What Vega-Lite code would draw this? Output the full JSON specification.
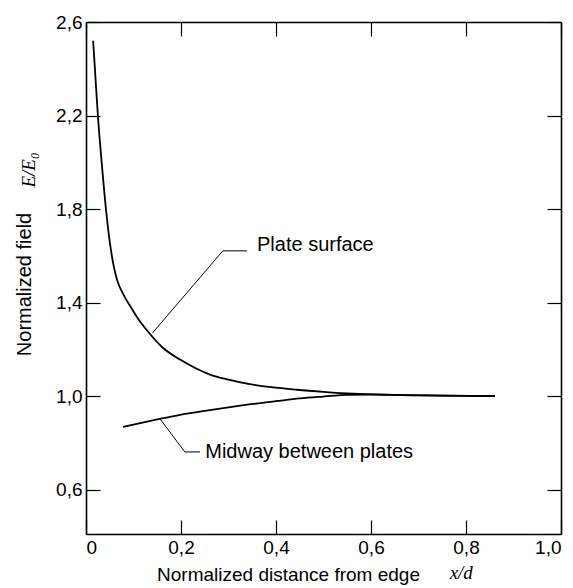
{
  "$schema": "https://vega.github.io/schema/vega-lite/v6.json",
  "width": 475,
  "height": 512,
  "autosize": {"type": "none"},
  "padding": {"left": 86, "top": 22, "right": 12, "bottom": 54},
  "background": "white",
  "config": {
    "view": {"stroke": null},
    "font": "Liberation Sans",
    "axis": {
      "grid": false,
      "domainColor": "#000",
      "domainWidth": 1.6,
      "tickColor": "#000",
      "tickWidth": 1.2,
      "tickSize": -14,
      "labelPadding": 18,
      "labelColor": "#000",
      "titleColor": "#000",
      "labelFont": "Liberation Sans",
      "titleFont": "Liberation Sans",
      "labelFontSize": 19,
      "titleFontSize": 19,
      "titleFontWeight": "normal"
    }
  },
  "datasets": {
    "curves": [
      {"series": "Plate surface", "x": 0.015, "y": 2.52},
      {"series": "Plate surface", "x": 0.02, "y": 2.36},
      {"series": "Plate surface", "x": 0.025, "y": 2.2},
      {"series": "Plate surface", "x": 0.033, "y": 2.0},
      {"series": "Plate surface", "x": 0.042, "y": 1.8},
      {"series": "Plate surface", "x": 0.05, "y": 1.66},
      {"series": "Plate surface", "x": 0.057, "y": 1.57},
      {"series": "Plate surface", "x": 0.065, "y": 1.5},
      {"series": "Plate surface", "x": 0.08, "y": 1.43},
      {"series": "Plate surface", "x": 0.093, "y": 1.385},
      {"series": "Plate surface", "x": 0.11, "y": 1.33},
      {"series": "Plate surface", "x": 0.13, "y": 1.277},
      {"series": "Plate surface", "x": 0.16, "y": 1.21},
      {"series": "Plate surface", "x": 0.198, "y": 1.156},
      {"series": "Plate surface", "x": 0.23, "y": 1.12},
      {"series": "Plate surface", "x": 0.261, "y": 1.092},
      {"series": "Plate surface", "x": 0.3, "y": 1.07},
      {"series": "Plate surface", "x": 0.339, "y": 1.053},
      {"series": "Plate surface", "x": 0.39, "y": 1.038},
      {"series": "Plate surface", "x": 0.444, "y": 1.027},
      {"series": "Plate surface", "x": 0.5, "y": 1.018},
      {"series": "Plate surface", "x": 0.562, "y": 1.01},
      {"series": "Plate surface", "x": 0.65, "y": 1.005},
      {"series": "Plate surface", "x": 0.75, "y": 1.002},
      {"series": "Plate surface", "x": 0.861, "y": 1.0},
      {"series": "Midway between plates", "x": 0.078, "y": 0.868},
      {"series": "Midway between plates", "x": 0.1, "y": 0.878},
      {"series": "Midway between plates", "x": 0.15, "y": 0.9},
      {"series": "Midway between plates", "x": 0.198, "y": 0.92},
      {"series": "Midway between plates", "x": 0.25, "y": 0.937},
      {"series": "Midway between plates", "x": 0.3, "y": 0.952},
      {"series": "Midway between plates", "x": 0.339, "y": 0.963},
      {"series": "Midway between plates", "x": 0.4, "y": 0.978},
      {"series": "Midway between plates", "x": 0.45, "y": 0.99},
      {"series": "Midway between plates", "x": 0.5, "y": 0.998},
      {"series": "Midway between plates", "x": 0.55, "y": 1.005},
      {"series": "Midway between plates", "x": 0.6, "y": 1.006},
      {"series": "Midway between plates", "x": 0.7, "y": 1.003},
      {"series": "Midway between plates", "x": 0.861, "y": 1.0}
    ],
    "leaders": [
      {"series": "Plate surface", "order": 1, "x": 0.14, "y": 1.27},
      {"series": "Plate surface", "order": 2, "x": 0.288, "y": 1.621},
      {"series": "Plate surface", "order": 3, "x": 0.339, "y": 1.621},
      {"series": "Midway between plates", "order": 1, "x": 0.156, "y": 0.902},
      {"series": "Midway between plates", "order": 2, "x": 0.208, "y": 0.761},
      {"series": "Midway between plates", "order": 3, "x": 0.24, "y": 0.761}
    ],
    "labels": [
      {"label": "Plate surface", "x": 0.36, "y": 1.646},
      {"label": "Midway between plates", "x": 0.251, "y": 0.761}
    ],
    "italic": [
      {"label": "E/E₀", "x": -0.12, "y": 1.967, "angle": 270},
      {"label": "x/d", "x": 0.79, "y": 0.242, "angle": 0}
    ]
  },
  "layer": [
    {
      "data": {"name": "curves"},
      "mark": {"type": "line", "color": "#000", "strokeWidth": 1.8, "interpolate": "monotone"},
      "encoding": {
        "x": {
          "field": "x", "type": "quantitative",
          "scale": {"domain": [0, 1], "nice": false},
          "axis": {
            "orient": "bottom",
            "values": [0, 0.2, 0.4, 0.6, 0.8, 1.0],
            "labelExpr": "datum.value == 0 ? '0' : replace(format(datum.value, '.1f'), '.', ',')",
            "title": "Normalized distance from edge",
            "titleX": 202,
            "titleY": 40,
            "titleBaseline": "middle"
          }
        },
        "y": {
          "field": "y", "type": "quantitative",
          "scale": {"domain": [0.41, 2.6], "nice": false, "zero": false},
          "axis": {
            "orient": "left",
            "values": [0.6, 1.0, 1.4, 1.8, 2.2, 2.6],
            "labelExpr": "replace(format(datum.value, '.1f'), '.', ',')",
            "title": "Normalized field",
            "titleFontSize": 20,
            "titleX": -62,
            "titleY": 262,
            "titleAngle": 270,
            "titleBaseline": "middle",
            "titleAlign": "center"
          }
        },
        "detail": {"field": "series"}
      }
    },
    {
      "data": {"name": "leaders"},
      "mark": {"type": "line", "color": "#000", "strokeWidth": 1},
      "encoding": {
        "x": {
          "field": "x", "type": "quantitative",
          "scale": {"domain": [0, 1], "nice": false},
          "axis": {"orient": "top", "values": [0, 0.2, 0.4, 0.6, 0.8, 1.0], "labels": false, "title": null}
        },
        "y": {
          "field": "y", "type": "quantitative",
          "scale": {"domain": [0.41, 2.6], "nice": false, "zero": false},
          "axis": {"orient": "right", "values": [0.6, 1.0, 1.4, 1.8, 2.2, 2.6], "labels": false, "title": null}
        },
        "detail": {"field": "series"},
        "order": {"field": "order"}
      }
    },
    {
      "data": {"name": "labels"},
      "mark": {"type": "text", "align": "left", "baseline": "middle", "fontSize": 20, "font": "Liberation Sans", "color": "#000"},
      "encoding": {
        "x": {"field": "x", "type": "quantitative", "axis": null},
        "y": {"field": "y", "type": "quantitative", "axis": null},
        "text": {"field": "label"}
      }
    },
    {
      "data": {"name": "italic"},
      "mark": {"type": "text", "align": "center", "baseline": "middle", "fontSize": 19, "font": "Liberation Serif", "fontStyle": "italic", "color": "#000", "clip": false},
      "encoding": {
        "x": {"field": "x", "type": "quantitative", "axis": null},
        "y": {"field": "y", "type": "quantitative", "axis": null},
        "angle": {"field": "angle", "type": "quantitative", "scale": null},
        "text": {"field": "label"}
      }
    }
  ],
  "resolve": {"axis": {"x": "independent", "y": "independent"}}
}
